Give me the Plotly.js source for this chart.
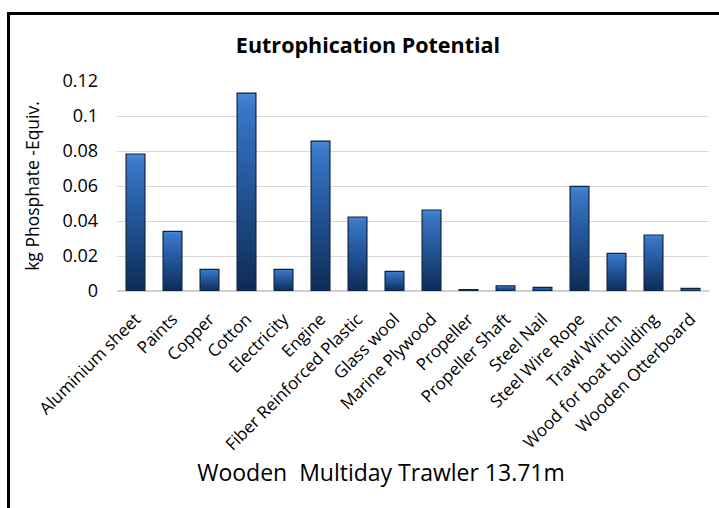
<!DOCTYPE html>
<html><head><meta charset="utf-8">
<script src="https://cdn.plot.ly/plotly-3.0.1.min.js"></script>
<style>
html,body{margin:0;padding:0;background:#fff;overflow:hidden}
#chart{width:719px;height:508px;position:absolute;left:0;top:0}
#frame{position:absolute;left:7px;top:12px;width:800px;height:600px;border:3px solid #000;pointer-events:none;box-sizing:border-box}
</style></head>
<body>
<div id="chart"></div>
<div id="frame"></div>
<script>
const categories = ["Aluminium sheet","Paints","Copper","Cotton","Electricity","Engine","Fiber Reinforced Plastic","Glass wool","Marine Plywood","Propeller","Propeller Shaft","Steel Nail","Steel Wire Rope","Trawl Winch","Wood for boat building","Wooden Otterboard"];
const values = [0.0783,0.0341,0.0124,0.1131,0.0124,0.0857,0.0423,0.0112,0.0463,0.0008,0.0030,0.0021,0.0598,0.0215,0.0320,0.0015];
const yTicks = [0,0.02,0.04,0.06,0.08,0.1,0.12];
const yTickLabels = ["0","0.02","0.04","0.06","0.08","0.1","0.12"];
const xTitle = "Wooden  Multiday Trawler 13.71m";
const yTitle = "kg Phosphate -Equiv.";
const chartTitle = "Eutrophication Potential";

const font = "Open Sans, sans-serif";
const trace = {
  type:"bar", x:categories, y:values,
  marker:{color:"#1f4f8f", line:{color:"#0b2440", width:1.2}},
  hoverinfo:"x+y"
};
const layout = {
  width:719, height:508,
  margin:{l:117, r:10, t:81, b:217},
  paper_bgcolor:"#fff", plot_bgcolor:"#fff",
  bargap:0.49,
  showlegend:false,
  title:{text:"<b>"+chartTitle+"</b>", x:368/719, xanchor:"center", y:1-45/508, yanchor:"middle", font:{family:font, size:21.5, color:"#000"}},
  xaxis:{
    tickangle:-45, tickfont:{family:font, size:17, color:"#000"},
    showgrid:false, showline:false, ticks:"", zeroline:false, ticklabelstandoff:14,
    title:{text:xTitle, font:{family:font, size:23, color:"#000"}, standoff:10},
    automargin:false
  },
  yaxis:{
    range:[0,0.12], tickvals:yTicks, ticktext:yTickLabels,
    tickfont:{family:font, size:18, color:"#000"},
    gridcolor:"#d9d9d9", gridwidth:1, zeroline:true, zerolinecolor:"#d0d0d0", zerolinewidth:1.5,
    showline:false, ticks:"", ticklen:0, ticklabelstandoff:18,
    title:{text:yTitle, font:{family:font, size:17.5, color:"#000"}, standoff:18},
    automargin:false
  }
};
Plotly.newPlot("chart",[trace],layout,{displayModeBar:false, staticPlot:true}).then(function(gd){
  const svg = gd.querySelector("svg.main-svg");
  const ns = "http://www.w3.org/2000/svg";
  let defs = svg.querySelector("defs");
  const g = document.createElementNS(ns,"linearGradient");
  g.setAttribute("id","barGrad"); g.setAttribute("x1","0"); g.setAttribute("y1","0"); g.setAttribute("x2","0"); g.setAttribute("y2","1");
  [["0","#4a8ad8"],["0.06","#3a78c8"],["0.45","#24579c"],["1","#0e2b55"]].forEach(function(s){
    const st = document.createElementNS(ns,"stop"); st.setAttribute("offset",s[0]); st.setAttribute("stop-color",s[1]); g.appendChild(st);
  });
  defs.appendChild(g);
  gd.querySelectorAll(".bars .point path").forEach(function(p){ p.style.fill="url(#barGrad)"; });
  const xt = gd.querySelector(".g-xtitle text");
  if (xt) { xt.setAttribute("x", 381); }
});
</script>
</body></html>
